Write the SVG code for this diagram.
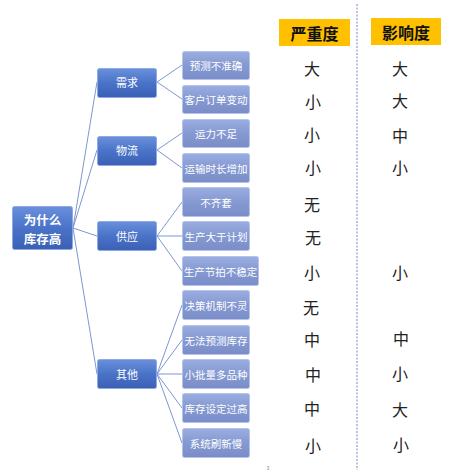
<svg xmlns="http://www.w3.org/2000/svg" width="453" height="472" viewBox="0 0 453 472">
<defs>
<linearGradient id="gCat" x1="0" y1="0" x2="0" y2="1">
<stop offset="0" stop-color="#6A90DC"/>
<stop offset="0.5" stop-color="#4A73C8"/>
<stop offset="1" stop-color="#3A60B4"/>
</linearGradient>
<linearGradient id="gLeaf" x1="0" y1="0" x2="0" y2="1">
<stop offset="0" stop-color="#9AAEE0"/>
<stop offset="0.5" stop-color="#8599D2"/>
<stop offset="1" stop-color="#7A8DC8"/>
</linearGradient>
</defs>
<style>
.cat{fill:url(#gCat);stroke:#8FA9E4;stroke-width:1}
.leaf{fill:url(#gLeaf);stroke:#B4C4EC;stroke-width:1}
.root{fill:url(#gCat);stroke:#8FA9E4;stroke-width:1}
.t{font-family:"Noto Sans CJK SC","Liberation Sans",sans-serif;fill:#fff;text-anchor:middle;dominant-baseline:central}
.tl{font-size:10.5px}
.tc{font-size:11px}
.tr{font-size:12.5px;font-weight:bold}
.v{font-family:"Noto Sans CJK SC","Liberation Sans",sans-serif;font-size:16px;fill:#222;text-anchor:middle;dominant-baseline:central}
.h{font-family:"Noto Sans CJK SC","Liberation Sans",sans-serif;font-size:16px;font-weight:bold;fill:#111;text-anchor:middle;dominant-baseline:central}
.ln{stroke:#7D96D2;stroke-width:1;fill:none}
</style>
<rect width="453" height="472" fill="#fff"/>
<g id="connectors">
<line class="ln" x1="73" y1="228" x2="97" y2="82"/>
<line class="ln" x1="73" y1="228" x2="97" y2="150"/>
<line class="ln" x1="73" y1="228" x2="97" y2="236"/>
<line class="ln" x1="73" y1="228" x2="97" y2="374"/>
<line class="ln" x1="157" y1="82" x2="182" y2="65"/>
<line class="ln" x1="157" y1="82" x2="182" y2="99"/>
<line class="ln" x1="157" y1="150" x2="182" y2="133"/>
<line class="ln" x1="157" y1="150" x2="182" y2="168"/>
<line class="ln" x1="157" y1="236" x2="182" y2="202"/>
<line class="ln" x1="157" y1="236" x2="182" y2="236" stroke-width="2"/>
<line class="ln" x1="157" y1="236" x2="182" y2="271"/>
<line class="ln" x1="157" y1="374" x2="182" y2="305"/>
<line class="ln" x1="157" y1="374" x2="182" y2="340"/>
<line class="ln" x1="157" y1="374" x2="182" y2="374" stroke-width="2"/>
<line class="ln" x1="157" y1="374" x2="182" y2="408"/>
<line class="ln" x1="157" y1="374" x2="182" y2="443"/>
</g>
<g id="root"><rect class="root" x="12.5" y="206.5" width="60" height="43" rx="2"/><text class="t tr" x="42.5" y="219">为什么</text><text class="t tr" x="42.5" y="238">库存高</text></g>
<g id="cat-xuqiu"><rect class="cat" x="97.5" y="68.5" width="59" height="29" rx="2"/><text class="t tc" x="127" y="82">需求</text></g>
<g id="cat-wuliu"><rect class="cat" x="97.5" y="136.5" width="59" height="29" rx="2"/><text class="t tc" x="127" y="150">物流</text></g>
<g id="cat-gongying"><rect class="cat" x="97.5" y="221.5" width="59" height="29" rx="2"/><text class="t tc" x="127" y="236">供应</text></g>
<g id="cat-qita"><rect class="cat" x="97.5" y="359.5" width="59" height="29" rx="2"/><text class="t tc" x="127" y="374">其他</text></g>
<g id="leaf1"><rect class="leaf" x="182.5" y="51.5" width="67" height="28" rx="2"/><text class="t tl" x="216" y="65">预测不准确</text></g>
<g id="leaf2"><rect class="leaf" x="182.5" y="85.5" width="67" height="28" rx="2"/><text class="t tl" x="216" y="99">客户订单变动</text></g>
<g id="leaf3"><rect class="leaf" x="182.5" y="119.5" width="67" height="28" rx="2"/><text class="t tl" x="216" y="133">运力不足</text></g>
<g id="leaf4"><rect class="leaf" x="182.5" y="153.5" width="67" height="29" rx="2"/><text class="t tl" x="216" y="168">运输时长增加</text></g>
<g id="leaf5"><rect class="leaf" x="182.5" y="187.5" width="67" height="29" rx="2"/><text class="t tl" x="216" y="202">不齐套</text></g>
<g id="leaf6"><rect class="leaf" x="182.5" y="221.5" width="67" height="29" rx="2"/><text class="t tl" x="216" y="236">生产大于计划</text></g>
<g id="leaf7"><rect class="leaf" x="182.5" y="256.5" width="76" height="29" rx="2"/><text class="t tl" x="220.5" y="271">生产节拍不稳定</text></g>
<g id="leaf8"><rect class="leaf" x="182.5" y="290.5" width="67" height="29" rx="2"/><text class="t tl" x="216" y="305">决策机制不灵</text></g>
<g id="leaf9"><rect class="leaf" x="182.5" y="325.5" width="67" height="29" rx="2"/><text class="t tl" x="216" y="340">无法预测库存</text></g>
<g id="leaf10"><rect class="leaf" x="182.5" y="359.5" width="67" height="29" rx="2"/><text class="t tl" x="216" y="374">小批量多品种</text></g>
<g id="leaf11"><rect class="leaf" x="182.5" y="393.5" width="67" height="29" rx="2"/><text class="t tl" x="216" y="408">库存设定过高</text></g>
<g id="leaf12"><rect class="leaf" x="182.5" y="428.5" width="67" height="29" rx="2"/><text class="t tl" x="216" y="443">系统刷新慢</text></g>
<g id="header-severity"><rect x="279" y="19" width="71" height="27" fill="#FFC000"/><text class="h" x="314.5" y="32.5">严重度</text></g>
<g id="header-impact"><rect x="371" y="18" width="70" height="27" fill="#FFC000"/><text class="h" x="406" y="31.5">影响度</text></g>
<line x1="357" y1="4" x2="357" y2="470" stroke="#6F86BE" stroke-width="1" stroke-dasharray="2,1.5"/>
<g id="severity">
<text class="v" x="312" y="68">大</text>
<text class="v" x="313" y="101">小</text>
<text class="v" x="312" y="134">小</text>
<text class="v" x="313" y="167">小</text>
<text class="v" x="312" y="204">无</text>
<text class="v" x="313" y="237">无</text>
<text class="v" x="312" y="272">小</text>
<text class="v" x="311" y="307">无</text>
<text class="v" x="312" y="339">中</text>
<text class="v" x="313" y="374">中</text>
<text class="v" x="312" y="408">中</text>
<text class="v" x="313" y="445">小</text>
</g>
<g id="impact">
<text class="v" x="400" y="68">大</text>
<text class="v" x="400" y="100">大</text>
<text class="v" x="400" y="135">中</text>
<text class="v" x="400" y="167">小</text>
<text class="v" x="400" y="272">小</text>
<text class="v" x="401" y="338">中</text>
<text class="v" x="400" y="373">小</text>
<text class="v" x="400" y="409">大</text>
<text class="v" x="401" y="444">小</text>
</g>
<text x="268" y="470" font-family="Liberation Sans, sans-serif" font-size="5" fill="#888" text-anchor="middle">3</text>
</svg>
